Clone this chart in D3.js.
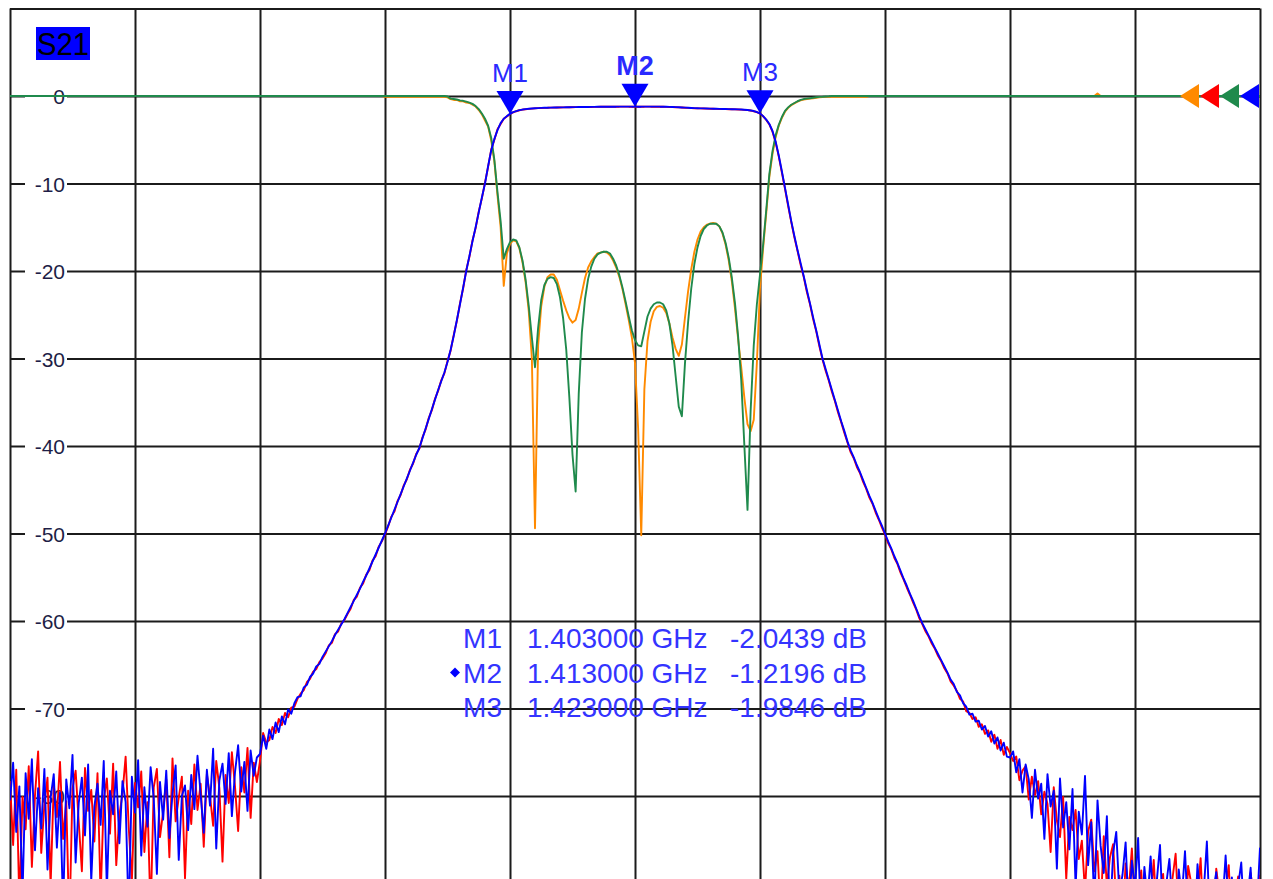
<!DOCTYPE html>
<html>
<head>
<meta charset="utf-8">
<title>S21 / S11 filter sweep</title>
<script src="https://cdn.jsdelivr.net/npm/d3@7"></script>
<style>
  html, body { margin: 0; padding: 0; background: #fff; overflow: hidden; }
  svg { display: block; font-family: "Liberation Sans", Arial, sans-serif; }
</style>
</head>
<body>
<svg id="chart" width="1273" height="879"></svg>
<script>
// ---- Sweep settings -------------------------------------------------------
const sweepStartGHz = 1.363;
const sweepStopGHz = 1.463;
const sweepPoints = 401;

// Graticule: 10 frequency divisions, 10 dB/div from +10 to -90 dB
const gridFreqs = [1.363, 1.373, 1.383, 1.393, 1.403, 1.413, 1.423, 1.433, 1.443, 1.453, 1.463];
const gridLevels = [10, 0, -10, -20, -30, -40, -50, -60, -70, -80, -90];
const levelLabels = [0, -10, -20, -30, -40, -50, -60, -70, -80];

// ---- Markers --------------------------------------------------------------
const markerNames = ["M1", "M2", "M3"];
const markerFreqs = [1.403, 1.413, 1.423];
const markerValues = [-2.0439, -1.2196, -1.9846];
const activeMarker = "M2";

// ---- Traces (dB, one value per sweep point) -------------------------------
// S21, channel A (blue)
const s21Blue = [
-80.5,-76.2,-84.1,-78.9,-91.3,-77.4,-82.6,-75.8,-86.2,-79.1,
-83.7,-76.9,-88.4,-80.2,-77.5,-85.9,-79.6,-93.0,-78.1,-81.4,
-75.3,-87.6,-80.8,-77.9,-84.5,-76.4,-89.7,-81.2,-78.6,-83.3,
-76.0,-90.8,-79.4,-82.1,-77.2,-85.4,-78.3,-80.7,-94.1,-77.8,
-81.9,-75.9,-86.8,-79.0,-83.5,-76.7,-80.3,-88.9,-78.4,-82.7,
-77.1,-84.8,-79.7,-76.5,-87.3,-80.0,-78.8,-83.9,-77.6,-81.5,
-75.4,-79.8,-84.2,-77.0,-81.1,-74.6,-86.0,-78.2,-76.3,-80.9,
-75.1,-82.3,-77.3,-74.2,-79.5,-76.1,-81.7,-74.8,-77.7,-75.6,
-75.2,-73.1,-74.6,-72.4,-73.5,-71.6,-72.7,-70.9,-71.8,-70.1,
-70.6,-69.4,-68.7,-68.6,-67.6,-67.3,-66.4,-66.0,-65.2,-64.9,
-64.1,-63.5,-62.9,-62.3,-61.6,-61.0,-60.4,-59.8,-59.1,-58.4,
-57.7,-57.0,-56.3,-55.5,-54.8,-54.0,-53.2,-52.4,-51.6,-50.8,
-50.0,-49.1,-48.2,-47.3,-46.4,-45.5,-44.6,-43.7,-42.8,-41.9,
-41.0,-40.2,-39.1,-38.0,-36.9,-35.8,-34.7,-33.6,-32.6,-31.6,
-30.4,-29.0,-27.4,-25.6,-23.8,-21.9,-20.0,-18.3,-16.6,-15.0,
-13.3,-11.6,-10.0,-8.0,-6.2,-4.9,-3.9,-3.1,-2.6,-2.3,
-2.0439,-1.85,-1.72,-1.62,-1.55,-1.50,-1.46,-1.43,-1.40,-1.38,
-1.36,-1.35,-1.34,-1.33,-1.32,-1.31,-1.30,-1.30,-1.29,-1.28,
-1.27,-1.27,-1.26,-1.26,-1.25,-1.25,-1.24,-1.24,-1.23,-1.23,
-1.23,-1.22,-1.22,-1.22,-1.22,-1.21,-1.21,-1.21,-1.21,-1.22,
-1.2196,-1.22,-1.22,-1.21,-1.21,-1.21,-1.21,-1.21,-1.22,-1.22,
-1.23,-1.24,-1.25,-1.27,-1.29,-1.31,-1.33,-1.35,-1.37,-1.39,
-1.40,-1.41,-1.42,-1.43,-1.44,-1.45,-1.46,-1.47,-1.48,-1.49,
-1.50,-1.51,-1.52,-1.53,-1.55,-1.57,-1.60,-1.65,-1.72,-1.83,
-1.9846,
-2.3,-2.7,-3.2,-4.0,-5.2,-6.8,-8.6,-10.5,-12.4,-14.3,
-16.0,-17.6,-19.1,-20.6,-22.2,-23.7,-25.3,-26.8,-28.4,-30.0,
-31.2,-32.4,-33.6,-34.8,-36.0,-37.2,-38.3,-39.5,-40.5,-41.3,
-42.2,-43.0,-43.9,-44.8,-45.7,-46.5,-47.4,-48.3,-49.1,-50.0,
-50.9,-51.7,-52.6,-53.4,-54.3,-55.2,-56.0,-56.9,-57.7,-58.6,
-59.5,-60.3,-61.0,-61.7,-62.4,-63.1,-63.8,-64.5,-65.2,-65.9,
-66.7,-67.2,-68.1,-68.5,-69.4,-69.8,-70.7,-70.6,-71.5,-71.4,
-72.4,-72.0,-73.2,-72.6,-74.0,-73.3,-74.8,-73.9,-75.5,
-75.6,-74.9,-77.3,-75.8,-79.6,-76.4,-78.1,-82.5,-77.0,-80.3,
-78.6,-84.9,-77.5,-81.2,-79.4,-88.3,-78.0,-83.6,-80.7,-86.1,
-79.2,-90.4,-81.8,-84.4,-77.7,-87.9,-83.0,-92.6,-80.5,-85.7,
-88.8,-82.3,-94.0,-86.5,-84.1,-91.2,-89.0,-85.3,-93.7,-87.4,
-90.6,-84.8,-95.2,-88.1,-91.9,-86.9,-93.3,-89.6,-85.6,-94.5,
-90.1,-87.2,-92.8,-96.0,-88.4,-91.5,-86.3,-93.9,-89.9,-95.6,
-87.8,-92.2,-90.9,-85.2,-94.8,-91.0,-88.7,-96.4,-92.5,-86.8,
-93.1,-89.3,-95.9,-90.3,-87.6,-94.2,-91.7,-88.2,-95.0,-92.9,
-85.9
];

// S21, channel B (red)
const s21Red = [
-78.3,-85.6,-77.0,-92.4,-80.1,-83.8,-76.6,-88.1,-79.9,-74.9,
-86.5,-81.0,-77.9,-90.2,-78.7,-82.4,-76.1,-84.9,-80.6,-95.0,
-79.2,-77.1,-83.0,-88.6,-76.8,-81.7,-79.3,-85.2,-77.4,-91.5,
-80.4,-78.0,-84.3,-76.3,-87.9,-82.2,-79.7,-75.5,-83.6,-89.8,
-78.5,-81.3,-77.2,-86.4,-80.7,-93.6,-79.0,-76.9,-84.7,-81.8,
-78.1,-87.0,-75.7,-82.9,-80.2,-77.8,-89.4,-79.4,-83.2,-76.4,
-81.6,-78.6,-85.8,-77.5,-80.0,-83.4,-76.0,-79.1,-87.5,-77.6,
-80.8,-75.0,-78.9,-84.0,-76.7,-79.6,-74.5,-82.5,-76.2,-78.4,
-76.0,-72.8,-73.9,-73.6,-72.1,-72.8,-71.2,-71.9,-70.5,-71.0,
-69.9,-69.8,-68.9,-68.3,-67.9,-67.0,-66.6,-65.8,-65.5,-64.7,
-64.3,-63.7,-62.8,-62.5,-61.5,-61.2,-60.3,-59.9,-59.2,-58.6,
-57.6,-57.2,-56.2,-55.7,-54.7,-54.2,-53.1,-52.6,-51.5,-50.9,
-50.1,-49.2,-48.1,-47.5,-46.3,-45.6,-44.5,-43.8,-42.7,-42.0,
-40.9,-40.3,-39.0,-38.1,-36.8,-35.9,-34.6,-33.7,-32.5,-31.7,
-30.3,-29.1,-27.3,-25.7,-23.7,-22.0,-19.9,-18.4,-16.5,-15.1,
-13.2,-11.7,-9.9,-8.1,-6.1,-5.0,-3.8,-3.2,-2.6,-2.35,
-2.06,-1.87,-1.74,-1.63,-1.56,-1.51,-1.47,-1.44,-1.41,-1.39,
-1.37,-1.36,-1.35,-1.33,-1.33,-1.32,-1.31,-1.30,-1.30,-1.29,
-1.28,-1.27,-1.27,-1.26,-1.26,-1.25,-1.25,-1.24,-1.24,-1.23,
-1.23,-1.23,-1.22,-1.22,-1.22,-1.22,-1.21,-1.21,-1.22,-1.22,
-1.23,-1.22,-1.22,-1.22,-1.21,-1.22,-1.22,-1.22,-1.23,-1.23,
-1.24,-1.25,-1.26,-1.28,-1.30,-1.32,-1.34,-1.36,-1.38,-1.40,
-1.41,-1.42,-1.43,-1.44,-1.45,-1.46,-1.47,-1.48,-1.49,-1.50,
-1.51,-1.52,-1.53,-1.54,-1.56,-1.58,-1.61,-1.66,-1.74,-1.85,
-2.00,
-2.32,-2.74,-3.25,-4.08,-5.3,-6.9,-8.75,-10.6,-12.55,-14.4,
-16.15,-17.7,-19.3,-20.7,-22.4,-23.8,-25.5,-26.9,-28.6,-30.1,
-31.4,-32.5,-33.8,-34.9,-36.2,-37.3,-38.5,-39.6,-40.7,-41.4,
-42.4,-43.1,-44.1,-44.9,-45.9,-46.6,-47.6,-48.4,-49.3,-50.1,
-51.1,-51.8,-52.8,-53.5,-54.5,-55.3,-56.2,-57.0,-57.9,-58.7,
-59.7,-60.4,-61.2,-61.8,-62.6,-63.2,-64.0,-64.6,-65.4,-66.0,
-66.9,-67.4,-68.0,-68.9,-69.2,-70.3,-70.5,-71.2,-71.0,-72.1,
-71.8,-72.9,-72.5,-73.8,-73.0,-74.6,-73.6,-75.3,-74.4,
-75.1,-76.0,-75.5,-78.2,-77.1,-76.6,-80.4,-77.8,-79.9,-78.3,
-82.1,-79.5,-80.9,-86.4,-79.0,-82.8,-84.7,-80.1,-89.5,-82.4,
-83.9,-81.6,-87.2,-85.1,-91.0,-84.0,-82.7,-88.6,-86.3,-93.5,
-84.6,-90.2,-87.0,-85.5,-92.3,-89.1,-94.9,-87.7,-90.8,-86.0,
-93.0,-91.4,-88.5,-95.8,-89.8,-92.0,-87.3,-94.3,-90.4,-88.9,
-96.2,-92.7,-89.4,-86.6,-93.8,-91.1,-95.4,-88.0,-90.0,-93.2,
-91.8,-87.1,-95.1,-89.7,-92.6,-96.7,-88.3,-91.3,-94.0,-90.7,
-87.9,-95.5,-92.1,-89.2,-93.6,-90.5,-96.1,-88.8,-91.6,-94.6,
-89.0
];

// S11, channel A (green)
const s11Green = [
0,0,0,0,0,0,0,0,0,0, 0,0,0,0,0,0,0,0,0,0,
0,0,0,0,0,0,0,0,0,0, 0,0,0,0,0,0,0,0,0,0,
0,0,0,0,0,0,0,0,0,0, 0,0,0,0,0,0,0,0,0,0,
0,0,0,0,0,0,0,0,0,0, 0,0,0,0,0,0,0,0,0,0,
0,0,0,0,0,0,0,0,0,0, 0,0,0,0,0,0,0,0,0,0,
0,0,0,0,0,0,0,0,0,0, 0,0,0,0,0,0,0,0,0,0,
0,0,0,0,0,0,0,0,0,0, 0,0,0,0,0,0,0,0,0,0,
-0.05,-0.3,-0.35,-0.4,-0.5,-0.55,-0.65,-0.75,-0.9,-1.15,
-1.5,-2.0,-2.6,-3.4,-4.8,-7.3,-11.0,-14.3,-18.6,-17.5,
-16.7,-16.4,-16.5,-17.3,-18.8,-21.0,-24.0,-27.6,-31.0,-26.5,
-23.3,-21.6,-20.9,-20.7,-20.8,-21.5,-23.0,-25.4,-29.0,-34.5,
-41.0,-45.2,-34.0,-27.0,-23.2,-20.9,-19.5,-18.6,-18.1,-17.9,
-17.8,-17.8,-18.0,-18.6,-19.4,-20.5,-21.9,-23.5,-25.2,-26.8,
-27.9,-28.5,-28.6,-26.9,-25.2,-24.3,-23.8,-23.6,-23.6,-23.8,
-24.5,-26.0,-28.5,-32.0,-35.5,-36.6,-30.5,-25.8,-22.0,-19.2,
-17.3,-16.0,-15.2,-14.8,-14.6,-14.6,-14.6,-14.9,-15.6,-16.8,
-18.5,-20.8,-23.7,-27.5,-32.5,-40.0,-47.3,-36.0,-28.5,-23.8,
-20.4,-17.0,-13.0,-8.9,-6.3,-4.5,-3.3,-2.4,-1.7,-1.3,
-1.0,-0.8,-0.6,-0.45,-0.35,-0.3,-0.25,-0.2,-0.15,-0.1,
-0.08,-0.05,-0.03,
0,0,0,0,0,0,0, 0,0,0,0,0,0,0,0,0,0,
0,0,0,0,0,0,0,0,0,0, 0,0,0,0,0,0,0,0,0,0,
0,0,0,0,0,0,0,0,0,0, 0,0,0,0,0,0,0,0,0,0,
0,0,0,0,0,0,0,0,0,0, 0,0,0,0,0,0,0,0,0,0,
0,0,0,0,0,0,0,0,0,0, 0,0,0,0,0,0,0,0,0,0,
0,0,0,0,0,0,0,0,0,0, 0,0,0,0,0,0,0,0,0,0,
0,0,0,0,0,0,0,0,0,0, 0,0,0,0,0,0,0,0,0,0,
0
];

// S11, channel B (orange)
const s11Orange = [
0,0,0,0,0,0,0,0,0,0, 0,0,0,0,0,0,0,0,0,0,
0,0,0,0,0,0,0,0,0,0, 0,0,0,0,0,0,0,0,0,0,
0,0,0,0,0,0,0,0,0,0, 0,0,0,0,0,0,0,0,0,0,
0,0,0,0,0,0,0,0,0,0, 0,0,0,0,0,0,0,0,0,0,
0,0,0,0,0,0,0,0,0,0, 0,0,0,0,0,0,0,0,0,0,
0,0,0,0,0,0,0,0,0,0, 0,0,0,0,0,0,0,0,0,0,
-0.1,-0.1,-0.1,-0.1,-0.1,-0.1,-0.1,-0.1,-0.1,-0.1,
-0.1,-0.1,-0.1,-0.1,-0.1,-0.1,-0.1,-0.1,-0.1,-0.1,
-0.15,-0.35,-0.45,-0.45,-0.6,-0.6,-0.75,-0.8,-1.0,-1.2,
-1.6,-2.1,-2.8,-3.5,-5.1,-7.5,-11.4,-15.0,-21.7,-18.0,
-16.9,-16.5,-16.6,-17.4,-19.0,-21.3,-24.6,-30.0,-49.4,-28.5,
-24.0,-21.8,-20.7,-20.4,-20.4,-21.0,-22.2,-23.4,-24.5,-25.4,
-25.9,-25.6,-24.3,-22.5,-20.8,-19.6,-18.9,-18.4,-18.0,-17.9,
-17.8,-17.9,-18.2,-18.8,-19.6,-20.7,-22.1,-23.8,-25.6,-27.6,
-30.5,-38.0,-50.2,-33.5,-28.0,-25.8,-24.6,-24.1,-24.0,-24.2,
-24.8,-26.0,-27.6,-28.9,-29.7,-28.4,-25.3,-22.3,-19.8,-17.8,
-16.4,-15.5,-15.0,-14.7,-14.6,-14.5,-14.6,-14.9,-15.7,-17.0,
-18.8,-21.2,-24.3,-27.8,-31.0,-34.5,-37.5,-38.3,-37.0,-30.5,
-22.0,-17.4,-13.4,-9.2,-6.6,-4.7,-3.4,-2.5,-1.8,-1.35,
-1.05,-0.85,-0.65,-0.5,-0.4,-0.35,-0.3,-0.25,-0.2,-0.15,
-0.12,-0.1,-0.1,
-0.1,-0.1,-0.1,-0.1,-0.1,-0.1,-0.1,-0.1,-0.1,-0.1,
-0.1,-0.1,
0,0,0,0,0,0,0,0,0,0, 0,0,0,0,0,0,0,0,0,0,
0,0,0,0,0,0,0,0,0,0, 0,0,0,0,0,0,0,0,0,0,
0,0,0,0,0,0,0,0,0,0, 0,0,0,0,0,0,0,0,0,0,
0,0,0,0,0,0,0,0,0,0, 0,0,0,
0.3,
0,0,0,0,0,0,0,0,0,0, 0,0,0,0,0,0,0,0,0,0,
0,0,0,0,0,0,0,0,0,0, 0,0,0,0,0,0,0,0,0,0,
0,0,0,0,0,0,0,0,0,0, 0,0
];

// Drawing order: later traces are painted on top
const traceNames = ["S11 B", "S21 B", "S11 A", "S21 A"];
const traceData = [s11Orange, s21Red, s11Green, s21Blue];
const traceColors = ["#ff8a00", "#ff0000", "#1f8a4c", "#0000ff"];

// ---- Layout ---------------------------------------------------------------
const W = 1273, H = 879;
const plot = { left: 10, right: 1260, top: 8.5, bottom: 883.5 };

const dashFmt = d3.formatLocale({ decimal: ".", thousands: ",", grouping: [3], currency: ["", ""], minus: "-" });
const fmtFreq = dashFmt.format(".6f");
const fmtDb = dashFmt.format(".4f");

const freqs = d3.range(sweepPoints).map(i => sweepStartGHz + i * (sweepStopGHz - sweepStartGHz) / (sweepPoints - 1));

const x = d3.scaleLinear().domain([sweepStartGHz, sweepStopGHz]).range([plot.left, plot.right]);
const y = d3.scaleLinear().domain([10, -90]).range([plot.top, plot.bottom]);

const svg = d3.select("#chart");
svg.append("rect").attr("width", W).attr("height", H).attr("fill", "#fff");

svg.append("defs").append("clipPath").attr("id", "plot-clip")
  .append("rect")
  .attr("x", plot.left).attr("y", plot.top)
  .attr("width", plot.right - plot.left).attr("height", plot.bottom - plot.top);

// ---- Graticule ------------------------------------------------------------
const gridColor = "#1b1b1b";

const vGrid = svg.append("g")
  .attr("transform", `translate(0,${plot.top})`)
  .call(d3.axisBottom(x).tickValues(gridFreqs).tickSize(plot.bottom - plot.top).tickFormat(""));
vGrid.select(".domain").remove();
vGrid.selectAll("line").attr("stroke", gridColor).attr("stroke-width", 2);

const hGrid = svg.append("g")
  .attr("transform", `translate(${plot.left},0)`)
  .call(d3.axisRight(y).tickValues(gridLevels).tickSize(plot.right - plot.left).tickFormat(""));
hGrid.select(".domain").remove();
hGrid.selectAll("line").attr("stroke", gridColor).attr("stroke-width", 2);

// Level labels sit on a white patch that interrupts the grid line
const labelAxis = svg.append("g")
  .attr("transform", "translate(67,0)")
  .call(d3.axisLeft(y).tickValues(levelLabels).tickSize(0).tickPadding(2).tickFormat(d => String(d)));
labelAxis.select(".domain").remove();
labelAxis.selectAll(".tick").insert("rect", "text")
  .attr("x", -42).attr("y", -11).attr("width", 42).attr("height", 22)
  .attr("fill", "#fff");
labelAxis.selectAll("text")
  .attr("font-size", 21)
  .attr("font-family", "'Liberation Sans', Arial, sans-serif")
  .attr("fill", "#1e1e46")
  .attr("dy", "0.36em");

// Trace title box
svg.append("rect").attr("x", 36).attr("y", 27).attr("width", 54).attr("height", 33).attr("fill", "#0000ff");
svg.append("text").attr("x", 37).attr("y", 55)
  .attr("font-size", 32).attr("textLength", 52).attr("lengthAdjust", "spacingAndGlyphs")
  .attr("fill", "#000").text("S21");

// ---- Traces ---------------------------------------------------------------
const line = d3.line()
  .x((d, i) => x(freqs[i]))
  .y(d => y(d));

const traceLayer = svg.append("g").attr("clip-path", "url(#plot-clip)");
traceLayer.selectAll("path")
  .data(traceData)
  .join("path")
  .attr("d", d => line(d))
  .attr("fill", "none")
  .attr("stroke", (d, i) => traceColors[i])
  .attr("stroke-width", 1.9)
  .attr("stroke-linejoin", "round");

// Reference-level arrows at the right edge, one per trace
const refArrows = svg.append("g");
traceColors.forEach((c, i) => {
  const tipX = 1180 + i * 20;
  const yRef = y(0);
  refArrows.append("path")
    .attr("d", `M${tipX},${yRef} L${tipX + 19},${yRef - 12} L${tipX + 19},${yRef + 12} Z`)
    .attr("fill", c);
});

// ---- Markers --------------------------------------------------------------
const markerLayer = svg.append("g");
markerNames.forEach((name, i) => {
  const mx = x(markerFreqs[i]);
  const my = y(markerValues[i]);
  const active = name === activeMarker;
  markerLayer.append("path")
    .attr("d", `M${mx},${my} L${mx - 13.5},${my - 23} L${mx + 13.5},${my - 23} Z`)
    .attr("fill", "#0000ff");
  markerLayer.append("text")
    .attr("x", mx).attr("y", my - 32)
    .attr("text-anchor", "middle")
    .attr("font-size", active ? 27 : 26)
    .attr("font-weight", active ? "bold" : "normal")
    .attr("fill", "#2a2aff")
    .text(name);
});

// Marker readout table
const table = svg.append("g").attr("fill", "#3434ff").attr("font-size", 28);
markerNames.forEach((name, i) => {
  const base = 648 + i * 34.5;
  table.append("text").attr("x", 502).attr("y", base).attr("text-anchor", "end").text(name);
  table.append("text").attr("x", 527).attr("y", base).text(`${fmtFreq(markerFreqs[i])} GHz`);
  table.append("text").attr("x", 730).attr("y", base).text(`${fmtDb(markerValues[i])} dB`);
  if (name === activeMarker) {
    table.append("path")
      .attr("d", `M455,${base - 15} L460,${base - 10} L455,${base - 5} L450,${base - 10} Z`)
      .attr("fill", "#0000ff");
  }
});
</script>
</body>
</html>
